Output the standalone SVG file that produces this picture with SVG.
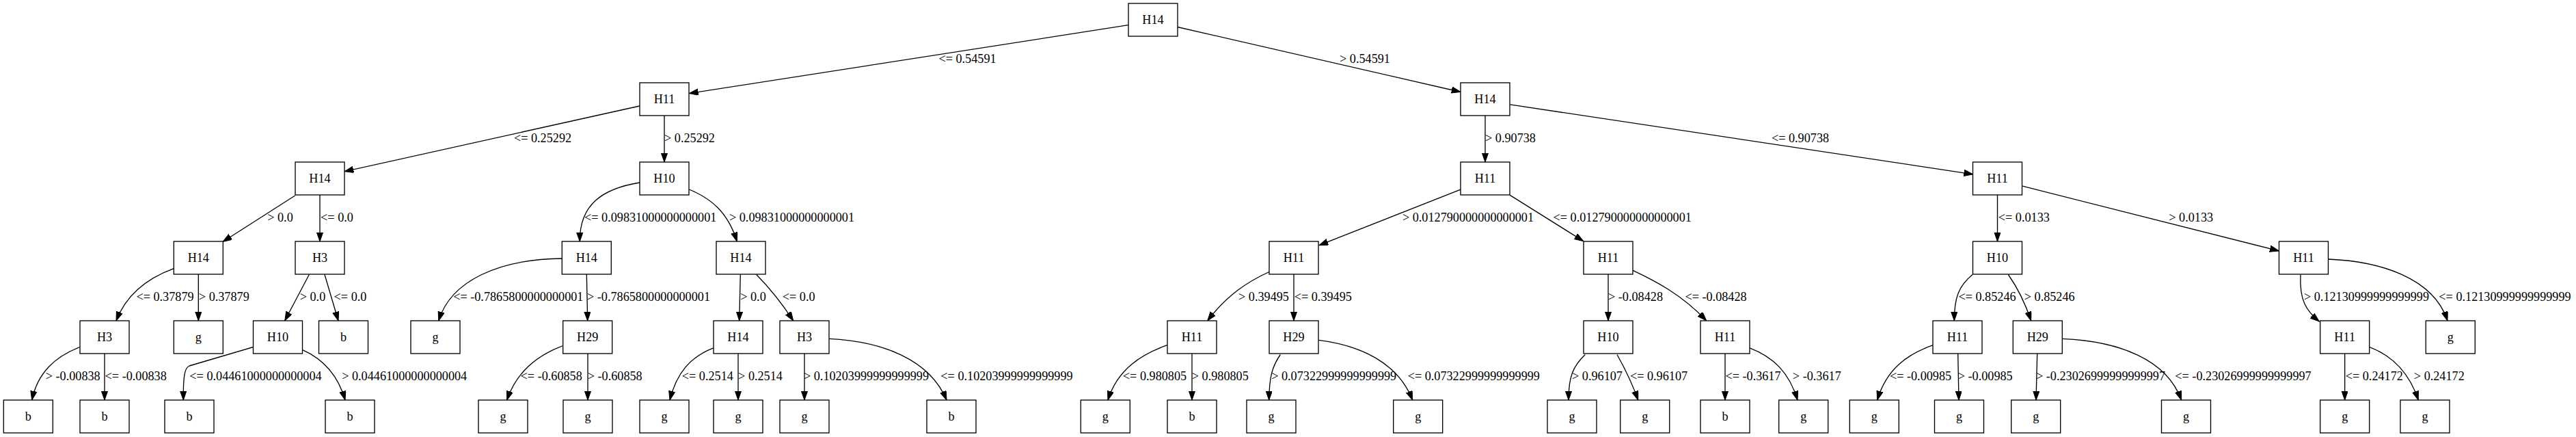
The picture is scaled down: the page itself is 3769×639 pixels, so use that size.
<svg xmlns="http://www.w3.org/2000/svg" width="3769" height="639" viewBox="0 0 3769 639">
<style>
.n rect{fill:#fff;stroke:#000;stroke-width:1.33}
.n text{font-family:"Liberation Serif","Times New Roman",serif;font-size:18.2px;text-anchor:middle;fill:#000}
#edges path{fill:none;stroke:#000;stroke-width:1.33;marker-end:url(#ah)}
#labels text{font-family:"Liberation Serif","Times New Roman",serif;font-size:18.2px;text-anchor:middle;fill:#000}
</style>
<defs>
<marker id="ah" markerUnits="userSpaceOnUse" markerWidth="14" markerHeight="10" refX="13.3" refY="4.67" orient="auto">
<path d="M0,0 L13.3,4.67 L0,9.33 z" fill="#000" stroke="#000" stroke-width="1"/>
</marker>
</defs>
<rect width="3769" height="639" fill="#fff"/>
<g id="edges">
<path d="M1650.7,36.7 L1008.3,136.6"/>
<path d="M1722.7,39.5 L2137,134.5"/>
<path d="M935.7,155 L504,250.7"/>
<path d="M972,169 L972,237"/>
<path d="M2173,169 L2173,237"/>
<path d="M2209.3,152.9 L2886.7,254.8"/>
<path d="M431.7,286 L326,353.5"/>
<path d="M468,285 L468,353"/>
<path d="M936,267 C880,276 848,300 848.3,353"/>
<path d="M1008.3,277 C1040,290 1065,310 1078.3,353"/>
<path d="M2137,277.2 L1930,358.7"/>
<path d="M2209.3,285.4 L2316.7,352.6"/>
<path d="M2922.5,285 L2922.5,353"/>
<path d="M2958.3,271.9 L3334.3,366.9"/>
<path d="M254.3,392.6 C215,407 185,430 170,469"/>
<path d="M290.3,401 L290.3,469"/>
<path d="M452.3,401.5 L416.7,469"/>
<path d="M475,401.5 L495,469"/>
<path d="M822.3,378 C730,379 660,410 641.7,469"/>
<path d="M858.3,401 L859.7,469"/>
<path d="M1083.3,401.5 L1081.7,469"/>
<path d="M1106.7,401.5 C1125,420 1145,445 1160.7,469"/>
<path d="M1857,397.5 C1825,412 1795,432 1766.7,469"/>
<path d="M1893,401 L1893,469"/>
<path d="M2353,401 L2353,469"/>
<path d="M2389,395.4 C2420,410 2460,430 2496.7,469"/>
<path d="M2886,401.5 C2866,418 2859.3,435 2859.3,469"/>
<path d="M2938.3,401.5 C2950,418 2962,440 2971.7,469"/>
<path d="M3366,401.5 C3364,440 3375,455 3393.3,470"/>
<path d="M3406.7,379 C3480,382 3560,405 3581,469"/>
<path d="M116.7,507.5 C80,522 55,545 46.7,585"/>
<path d="M153,517 L153,585"/>
<path d="M370.3,507.5 L277,535 C270,538 268,550 268.3,585"/>
<path d="M442.7,511.6 C475,526 495,550 505,585"/>
<path d="M823.7,505.5 C785,520 755,545 741.7,585"/>
<path d="M860,517 L860,585"/>
<path d="M1043.7,508.8 C1010,522 990,545 980,585"/>
<path d="M1080,517 L1080,585"/>
<path d="M1177,517 L1177,585"/>
<path d="M1213.3,495.3 C1290,499 1360,525 1385,585"/>
<path d="M1707.7,504.7 C1670,518 1635,540 1621,585"/>
<path d="M1744,517 L1744,585"/>
<path d="M1873.3,518.5 C1862,535 1857,550 1856.7,585"/>
<path d="M1929.3,497.4 C1990,505 2045,530 2066.7,585"/>
<path d="M2319.3,518.5 C2302,535 2295,550 2295,585"/>
<path d="M2366,518.5 C2378,540 2388,560 2396.7,585"/>
<path d="M2524,517 L2524,585"/>
<path d="M2560,508.8 C2595,522 2618,545 2630,585"/>
<path d="M2828.3,504.7 C2790,518 2760,540 2746.7,585"/>
<path d="M2864.7,517 L2866,585"/>
<path d="M2980.7,517 L2979,585"/>
<path d="M3017.3,495.3 C3100,499 3170,525 3191.7,585"/>
<path d="M3430.7,517 L3430.7,585"/>
<path d="M3466.7,507.5 C3500,520 3525,545 3538.3,585"/>
</g>
<g id="labels">
<text x="1415.5" y="92.3">&lt;= 0.54591</text>
<text x="1997" y="92.3">&gt; 0.54591</text>
<text x="794" y="208.3">&lt;= 0.25292</text>
<text x="1009" y="208.3">&gt; 0.25292</text>
<text x="2210" y="208.3">&gt; 0.90738</text>
<text x="2634" y="208.3">&lt;= 0.90738</text>
<text x="410" y="324.3">&gt; 0.0</text>
<text x="493" y="324.3">&lt;= 0.0</text>
<text x="951.7" y="324.3">&lt;= 0.09831000000000001</text>
<text x="1158.5" y="324.3">&gt; 0.09831000000000001</text>
<text x="2148" y="324.3">&gt; 0.012790000000000001</text>
<text x="2373.7" y="324.3">&lt;= 0.012790000000000001</text>
<text x="2961.3" y="324.3">&lt;= 0.0133</text>
<text x="3205.7" y="324.3">&gt; 0.0133</text>
<text x="241.5" y="440.3">&lt;= 0.37879</text>
<text x="327.8" y="440.3">&gt; 0.37879</text>
<text x="457.5" y="440.3">&gt; 0.0</text>
<text x="512.5" y="440.3">&lt;= 0.0</text>
<text x="758.3" y="440.3">&lt;= -0.7865800000000001</text>
<text x="949" y="440.3">&gt; -0.7865800000000001</text>
<text x="1102" y="440.3">&gt; 0.0</text>
<text x="1168.7" y="440.3">&lt;= 0.0</text>
<text x="1849" y="440.3">&gt; 0.39495</text>
<text x="1935.8" y="440.3">&lt;= 0.39495</text>
<text x="2393" y="440.3">&gt; -0.08428</text>
<text x="2510.5" y="440.3">&lt;= -0.08428</text>
<text x="2907.5" y="440.3">&lt;= 0.85246</text>
<text x="2998.7" y="440.3">&gt; 0.85246</text>
<text x="3462.5" y="440.3">&gt; 0.12130999999999999</text>
<text x="3665" y="440.3">&lt;= 0.12130999999999999</text>
<text x="106.7" y="556.3">&gt; -0.00838</text>
<text x="198.7" y="556.3">&lt;= -0.00838</text>
<text x="374" y="556.3">&lt;= 0.04461000000000004</text>
<text x="591.7" y="556.3">&gt; 0.04461000000000004</text>
<text x="806.7" y="556.3">&lt;= -0.60858</text>
<text x="899.7" y="556.3">&gt; -0.60858</text>
<text x="1035.3" y="556.3">&lt;= 0.2514</text>
<text x="1112.5" y="556.3">&gt; 0.2514</text>
<text x="1267.5" y="556.3">&gt; 0.10203999999999999</text>
<text x="1473" y="556.3">&lt;= 0.10203999999999999</text>
<text x="1689.5" y="556.3">&lt;= 0.980805</text>
<text x="1785.3" y="556.3">&gt; 0.980805</text>
<text x="1951.7" y="556.3">&gt; 0.07322999999999999</text>
<text x="2156.3" y="556.3">&lt;= 0.07322999999999999</text>
<text x="2337" y="556.3">&gt; 0.96107</text>
<text x="2427" y="556.3">&lt;= 0.96107</text>
<text x="2565" y="556.3">&lt;= -0.3617</text>
<text x="2658.3" y="556.3">&gt; -0.3617</text>
<text x="2810" y="556.3">&lt;= -0.00985</text>
<text x="2904.7" y="556.3">&gt; -0.00985</text>
<text x="3073.5" y="556.3">&gt; -0.23026999999999997</text>
<text x="3282" y="556.3">&lt;= -0.23026999999999997</text>
<text x="3473.8" y="556.3">&lt;= 0.24172</text>
<text x="3568.8" y="556.3">&gt; 0.24172</text>
</g>
<g id="n0" class="n"><rect x="1651" y="5" width="72" height="48"/><text x="1687" y="34.5">H14</text></g>
<g id="n1" class="n"><rect x="936" y="121" width="72" height="48"/><text x="972" y="150.5">H11</text></g>
<g id="n2" class="n"><rect x="2137" y="121" width="72" height="48"/><text x="2173" y="150.5">H14</text></g>
<g id="n3" class="n"><rect x="432" y="237" width="72" height="48"/><text x="468" y="266.5">H14</text></g>
<g id="n4" class="n"><rect x="936" y="237" width="72" height="48"/><text x="972" y="266.5">H10</text></g>
<g id="n5" class="n"><rect x="2137" y="237" width="72" height="48"/><text x="2173" y="266.5">H11</text></g>
<g id="n6" class="n"><rect x="2886.5" y="237" width="72" height="48"/><text x="2922.5" y="266.5">H11</text></g>
<g id="n7" class="n"><rect x="254.3" y="353" width="72" height="48"/><text x="290.3" y="382.5">H14</text></g>
<g id="n8" class="n"><rect x="432" y="353" width="72" height="48"/><text x="468" y="382.5">H3</text></g>
<g id="n9" class="n"><rect x="822.3" y="353" width="72" height="48"/><text x="858.3" y="382.5">H14</text></g>
<g id="n10" class="n"><rect x="1048" y="353" width="72" height="48"/><text x="1084" y="382.5">H14</text></g>
<g id="n11" class="n"><rect x="1857" y="353" width="72" height="48"/><text x="1893" y="382.5">H11</text></g>
<g id="n12" class="n"><rect x="2317" y="353" width="72" height="48"/><text x="2353" y="382.5">H11</text></g>
<g id="n13" class="n"><rect x="2886.5" y="353" width="72" height="48"/><text x="2922.5" y="382.5">H10</text></g>
<g id="n14" class="n"><rect x="3334.5" y="353" width="72" height="48"/><text x="3370.5" y="382.5">H11</text></g>
<g id="n15" class="n"><rect x="117" y="469" width="72" height="48"/><text x="153" y="498.5">H3</text></g>
<g id="n16" class="n"><rect x="254.3" y="469" width="72" height="48"/><text x="290.3" y="498.5">g</text></g>
<g id="n17" class="n"><rect x="370.5" y="469" width="72" height="48"/><text x="406.5" y="498.5">H10</text></g>
<g id="n18" class="n"><rect x="466.5" y="469" width="72" height="48"/><text x="502.5" y="498.5">b</text></g>
<g id="n19" class="n"><rect x="601" y="469" width="72" height="48"/><text x="637" y="498.5">g</text></g>
<g id="n20" class="n"><rect x="823.7" y="469" width="72" height="48"/><text x="859.7" y="498.5">H29</text></g>
<g id="n21" class="n"><rect x="1044" y="469" width="72" height="48"/><text x="1080" y="498.5">H14</text></g>
<g id="n22" class="n"><rect x="1141" y="469" width="72" height="48"/><text x="1177" y="498.5">H3</text></g>
<g id="n23" class="n"><rect x="1708" y="469" width="72" height="48"/><text x="1744" y="498.5">H11</text></g>
<g id="n24" class="n"><rect x="1857" y="469" width="72" height="48"/><text x="1893" y="498.5">H29</text></g>
<g id="n25" class="n"><rect x="2317" y="469" width="72" height="48"/><text x="2353" y="498.5">H10</text></g>
<g id="n26" class="n"><rect x="2488" y="469" width="72" height="48"/><text x="2524" y="498.5">H11</text></g>
<g id="n27" class="n"><rect x="2828" y="469" width="72" height="48"/><text x="2864" y="498.5">H11</text></g>
<g id="n28" class="n"><rect x="2945.3" y="469" width="72" height="48"/><text x="2981.3" y="498.5">H29</text></g>
<g id="n29" class="n"><rect x="3394.7" y="469" width="72" height="48"/><text x="3430.7" y="498.5">H11</text></g>
<g id="n30" class="n"><rect x="3549.3" y="469" width="72" height="48"/><text x="3585.3" y="498.5">g</text></g>
<g id="n31" class="n"><rect x="5.3" y="585" width="72" height="48"/><text x="41.3" y="614.5">b</text></g>
<g id="n32" class="n"><rect x="117" y="585" width="72" height="48"/><text x="153" y="614.5">b</text></g>
<g id="n33" class="n"><rect x="241" y="585" width="72" height="48"/><text x="277" y="614.5">b</text></g>
<g id="n34" class="n"><rect x="476" y="585" width="72" height="48"/><text x="512" y="614.5">b</text></g>
<g id="n35" class="n"><rect x="700" y="585" width="72" height="48"/><text x="736" y="614.5">g</text></g>
<g id="n36" class="n"><rect x="824" y="585" width="72" height="48"/><text x="860" y="614.5">g</text></g>
<g id="n37" class="n"><rect x="936" y="585" width="72" height="48"/><text x="972" y="614.5">g</text></g>
<g id="n38" class="n"><rect x="1044" y="585" width="72" height="48"/><text x="1080" y="614.5">g</text></g>
<g id="n39" class="n"><rect x="1141" y="585" width="72" height="48"/><text x="1177" y="614.5">g</text></g>
<g id="n40" class="n"><rect x="1356" y="585" width="72" height="48"/><text x="1392" y="614.5">b</text></g>
<g id="n41" class="n"><rect x="1581.3" y="585" width="72" height="48"/><text x="1617.3" y="614.5">g</text></g>
<g id="n42" class="n"><rect x="1708" y="585" width="72" height="48"/><text x="1744" y="614.5">b</text></g>
<g id="n43" class="n"><rect x="1824" y="585" width="72" height="48"/><text x="1860" y="614.5">g</text></g>
<g id="n44" class="n"><rect x="2038.7" y="585" width="72" height="48"/><text x="2074.7" y="614.5">g</text></g>
<g id="n45" class="n"><rect x="2264" y="585" width="72" height="48"/><text x="2300" y="614.5">g</text></g>
<g id="n46" class="n"><rect x="2370.7" y="585" width="72" height="48"/><text x="2406.7" y="614.5">g</text></g>
<g id="n47" class="n"><rect x="2488" y="585" width="72" height="48"/><text x="2524" y="614.5">b</text></g>
<g id="n48" class="n"><rect x="2602.7" y="585" width="72" height="48"/><text x="2638.7" y="614.5">g</text></g>
<g id="n49" class="n"><rect x="2706.3" y="585" width="72" height="48"/><text x="2742.3" y="614.5">g</text></g>
<g id="n50" class="n"><rect x="2830.5" y="585" width="72" height="48"/><text x="2866.5" y="614.5">g</text></g>
<g id="n51" class="n"><rect x="2942.7" y="585" width="72" height="48"/><text x="2978.7" y="614.5">g</text></g>
<g id="n52" class="n"><rect x="3162.5" y="585" width="72" height="48"/><text x="3198.5" y="614.5">g</text></g>
<g id="n53" class="n"><rect x="3394.7" y="585" width="72" height="48"/><text x="3430.7" y="614.5">g</text></g>
<g id="n54" class="n"><rect x="3512" y="585" width="72" height="48"/><text x="3548" y="614.5">g</text></g>
</svg>
